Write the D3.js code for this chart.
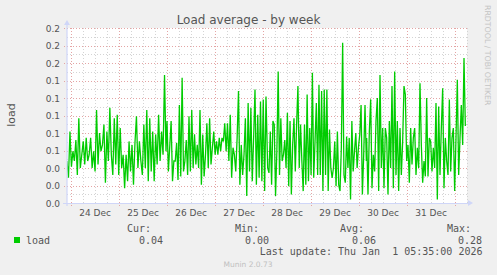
<!DOCTYPE html>
<html><head><meta charset="utf-8">
<script src="https://cdn.jsdelivr.net/npm/d3@7"></script>
<style>
html,body{margin:0;padding:0;background:#f0f0f0;}
svg{display:block;}
text{font-family:"DejaVu Sans",sans-serif;}
.mono{font-family:"DejaVu Sans Mono",monospace;white-space:pre;}
</style></head><body>
<svg id="c" width="497" height="275"></svg>
<script>
// ---- data ----
const timeDomain = ["2025-12-23T22:10:00Z", "2026-01-01T06:10:00Z"];
const segmentTimes = [
  ["2025-12-23T22:10:00Z", "2025-12-25T23:40:00Z"],
  ["2025-12-26T00:10:00Z", "2025-12-28T01:40:00Z"],
  ["2025-12-28T02:30:00Z", "2025-12-30T03:50:00Z"],
  ["2025-12-30T04:00:00Z", "2026-01-01T05:20:00Z"]
];
const load1 = [0.060,0.036,0.102,0.052,0.074,0.060,0.090,0.040,0.121,0.050,0.069,0.088,0.055,0.093,0.060,0.069,0.093,0.050,0.074,0.045,0.133,0.055,0.100,0.074,0.083,0.112,0.029,0.102,0.060,0.136,0.069,0.040,0.121,0.055,0.126,0.040,0.107,0.050,0.069,0.021,0.069,0.031,0.088,0.045,0.083,0.026,0.086,0.124,0.050,0.088,0.060,0.040,0.112,0.050,0.133,0.031,0.121,0.045,0.102,0.031,0.098,0.055,0.126,0.060,0.102,0.069,0.183,0.074];
const load2 = [0.117,0.045,0.081,0.117,0.031,0.060,0.060,0.086,0.033,0.140,0.038,0.179,0.045,0.060,0.090,0.040,0.124,0.045,0.133,0.050,0.098,0.055,0.083,0.050,0.133,0.026,0.098,0.038,0.069,0.114,0.050,0.121,0.055,0.079,0.102,0.069,0.088,0.069,0.093,0.074,0.093,0.088,0.114,0.074,0.114,0.060,0.126,0.036,0.079,0.069,0.045,0.093,0.160,0.026,0.083,0.040,0.069,0.121,0.010,0.143,0.045,0.136,0.031,0.093,0.162,0.026,0.126,0.036,0.145,0.031,0.148,0.017,0.152];
const load3 = [0.050,0.043,0.102,0.026,0.117,0.112,0.010,0.074,0.188,0.040,0.121,0.060,0.069,0.090,0.050,0.129,0.024,0.117,0.012,0.083,0.121,0.045,0.112,0.167,0.050,0.112,0.060,0.017,0.112,0.026,0.155,0.031,0.107,0.040,0.186,0.036,0.088,0.143,0.040,0.169,0.040,0.160,0.017,0.162,0.040,0.162,0.017,0.105,0.050,0.036,0.050,0.088,0.024,0.102,0.026,0.017,0.079,0.229,0.040,0.029,0.095,0.050,0.093,0.005,0.117,0.045,0.074,0.100,0.050,0.079,0.098,0.140,0.012,0.069,0.140,0.060];
const load4 = [0.093,0.012,0.102,0.148,0.021,0.069,0.045,0.117,0.150,0.017,0.183,0.050,0.107,0.021,0.107,0.093,0.012,0.117,0.050,0.167,0.021,0.188,0.040,0.117,0.017,0.107,0.040,0.088,0.167,0.155,0.060,0.083,0.029,0.107,0.055,0.093,0.107,0.040,0.079,0.050,0.171,0.083,0.029,0.060,0.038,0.150,0.038,0.093,0.088,0.045,0.079,0.050,0.143,0.005,0.138,0.040,0.107,0.164,0.021,0.093,0.060,0.040,0.148,0.045,0.093,0.107,0.017,0.093,0.176,0.040,0.093,0.140,0.083,0.207,0.110];
const yDomain = [0, 0.25];
const yTickValues = [0,0.025,0.05,0.075,0.1,0.125,0.15,0.175,0.2,0.225,0.25];
const yTickLabels = ["0.0","0.0","0.0","0.1","0.1","0.1","0.1","0.1","0.2","0.2","0.2"];
const dayStarts = ["2025-12-24","2025-12-25","2025-12-26","2025-12-27","2025-12-28","2025-12-29","2025-12-30","2025-12-31","2026-01-01"];
const xTickLabels = ["24 Dec","25 Dec","26 Dec","27 Dec","28 Dec","29 Dec","30 Dec","31 Dec"];
const statHeaders = ["Cur:","Min:","Avg:","Max:"];
const statValues = ["0.04","0.00","0.06","0.28"];
const seriesName = "load";
const lastUpdate = "Last update: Thu Jan  1 05:35:00 2026";

// ---- layout ----
const L = 67, R = 467, T = 28, B = 203;
const svg = d3.select("#c");
const parse = s => new Date(s);
const x = d3.scaleUtc().domain(timeDomain.map(parse)).range([L, R]);
const y = d3.scaleLinear().domain(yDomain).range([B, T]);

svg.append("rect").attr("width",497).attr("height",275).attr("fill","#f0f0f0");
svg.append("rect").attr("x",L).attr("y",T).attr("width",R-L).attr("height",B-T).attr("fill","#ffffff");

const minorCol = "#d4d4d4", majorCol = "#e4a4a4";
// minor vertical (6h)
const sixH = d3.utcHour.every(6).range(x.domain()[0], x.domain()[1]).filter(d => d.getUTCHours() !== 0);
svg.append("g").selectAll("line").data(sixH).join("line")
  .attr("x1", d => Math.round(x(d))+0.5).attr("x2", d => Math.round(x(d))+0.5)
  .attr("y1", T).attr("y2", B).attr("stroke", minorCol).attr("stroke-dasharray","1,2");
// minor horizontal
const yMinor = yTickValues.slice(0,-1).map((v,i) => (v + yTickValues[i+1])/2);
svg.append("g").selectAll("line").data(yMinor).join("line")
  .attr("x1", L).attr("x2", R).attr("y1", d => Math.round(y(d))+0.5).attr("y2", d => Math.round(y(d))+0.5)
  .attr("stroke", minorCol).attr("stroke-dasharray","1,2");
// major vertical
svg.append("g").selectAll("line").data(dayStarts.map(s => parse(s+"T00:00:00Z"))).join("line")
  .attr("x1", d => Math.round(x(d))+0.5).attr("x2", d => Math.round(x(d))+0.5)
  .attr("y1", T).attr("y2", B+3).attr("stroke", majorCol).attr("stroke-dasharray","1,2");
// major horizontal
svg.append("g").selectAll("line").data(yTickValues).join("line")
  .attr("x1", L-3).attr("x2", R).attr("y1", d => Math.round(y(d))+0.5).attr("y2", d => Math.round(y(d))+0.5)
  .attr("stroke", majorCol).attr("stroke-dasharray","1,2");

// series
const pts = [];
[load1, load2, load3, load4].forEach((arr, si) => {
  const t0 = parse(segmentTimes[si][0]).getTime(), t1 = parse(segmentTimes[si][1]).getTime();
  arr.forEach((v, i) => pts.push({t: new Date(t0 + (t1 - t0) * i / (arr.length - 1)), v}));
});
svg.append("clipPath").attr("id","pc").append("rect").attr("x",L).attr("y",T).attr("width",R-L).attr("height",B-T);
svg.append("path").datum(pts).attr("clip-path","url(#pc)")
  .attr("fill","none").attr("stroke","#00cc00").attr("stroke-width",1.3).attr("stroke-linejoin","miter")
  .attr("d", d3.line().x(d => x(d.t)).y(d => y(d.v)));

// axes lines + arrows
const axCol = "#cfd6f8";
svg.append("line").attr("x1",L).attr("x2",L).attr("y1",B+3).attr("y2",22).attr("stroke",axCol).attr("stroke-width",1.2);
svg.append("line").attr("x1",L-4).attr("x2",470).attr("y1",B+0.5).attr("y2",B+0.5).attr("stroke",axCol).attr("stroke-width",1.2);
svg.append("path").attr("d",`M${L-3},25 L${L+3},25 L${L},20 Z`).attr("fill",axCol);
svg.append("path").attr("d",`M468,200 L468,206 L473,203 Z`).attr("fill",axCol);

// y labels via axis
const yAxis = d3.axisLeft(y).tickValues(yTickValues).tickSize(0).tickPadding(0)
  .tickFormat((d,i) => yTickLabels[i]);
const gy = svg.append("g").attr("transform",`translate(60,0)`).call(yAxis);
gy.select(".domain").remove();
gy.selectAll("text").attr("font-family","DejaVu Sans").attr("font-size",9).attr("fill","#555").attr("dy","0.34em");

// x labels via axis (centered at noon)
const noons = dayStarts.slice(0,-1).map(s => parse(s+"T12:00:00Z"));
const xAxis = d3.axisBottom(x).tickValues(noons).tickSize(0).tickPadding(0)
  .tickFormat((d,i) => xTickLabels[i]);
const gx = svg.append("g").attr("transform",`translate(0,${B})`).call(xAxis);
gx.select(".domain").remove();
gx.selectAll("text").attr("font-family","DejaVu Sans").attr("font-size",9).attr("fill","#555").attr("dy",null).attr("y",13);

// title
svg.append("text").attr("x",248.5).attr("y",24).attr("text-anchor","middle")
  .attr("font-size",12).attr("fill","#555").text("Load average - by week");
// y title
svg.append("text").attr("transform","translate(15,115) rotate(-90)").attr("text-anchor","middle")
  .attr("font-size",11).attr("fill","#555").text(seriesName);
// watermark
svg.append("text").attr("transform","translate(485,5) rotate(90)")
  .attr("font-size",7.8).attr("fill","#c4c4c4").text("RRDTOOL / TOBI OETIKER");

// legend
const headerRight = [150, 258, 363, 470];
const valueRight = [163, 269, 376, 482];
svg.append("g").selectAll("text").data(statHeaders).join("text").attr("class","mono")
  .attr("x",(d,i)=>headerRight[i]+1).attr("y",232).attr("text-anchor","end")
  .attr("font-size",10).attr("fill","#555").text(d=>d);
svg.append("rect").attr("x",14).attr("y",237).attr("width",6).attr("height",6).attr("fill","#00cc00");
svg.append("text").attr("class","mono").attr("x",26).attr("y",243.5).attr("font-size",10).attr("fill","#555").text(seriesName);
svg.append("g").selectAll("text").data(statValues).join("text").attr("class","mono")
  .attr("x",(d,i)=>valueRight[i]).attr("y",243.5).attr("text-anchor","end")
  .attr("font-size",10).attr("fill","#555").text(d=>d);
svg.append("text").attr("class","mono").attr("x",482.5).attr("y",254.5).attr("text-anchor","end")
  .attr("font-size",10).attr("fill","#555").text(lastUpdate);
svg.append("text").attr("x",248).attr("y",267).attr("text-anchor","middle")
  .attr("font-size",7.5).attr("fill","#c0c0c0").text("Munin 2.0.73");
</script>
</body></html>
